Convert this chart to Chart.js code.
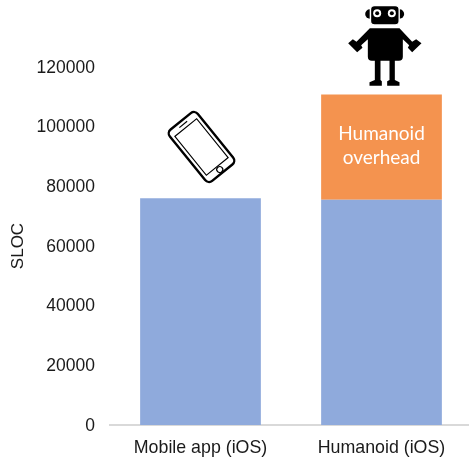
<!DOCTYPE html>
<html><head><meta charset="utf-8">
<style>html,body{margin:0;padding:0;background:#fff;overflow:hidden;width:469px;height:458px}
#w{position:relative;width:473px;height:458px}canvas{display:block}</style>
<script src="https://cdn.jsdelivr.net/npm/chart.js@4"></script></head>
<body><div id="w"><canvas id="c" width="473" height="458"></canvas></div>
<script>
const categories = ["Mobile app (iOS)", "Humanoid (iOS)"];
const baseValues = [76000, 75500];
const overheadValues = [0, 35300];
const tickValues = [0, 20000, 40000, 60000, 80000, 100000, 120000];
const overheadLabel = ["Humanoid", "overhead"];
const axisTitle = "SLOC";

const icons = {
  id: "icons",
  afterDatasetsDraw(chart) {
    const ctx = chart.ctx;
    const bars = chart.getDatasetMeta(0).data, top = chart.getDatasetMeta(1).data;
    // overhead label
    ctx.save();
    ctx.fillStyle = "#fff";
    ctx.font = '19px Lato, "Open Sans", sans-serif';
    ctx.textAlign = "center"; ctx.textBaseline = "middle";
    const o = top[1];
    ctx.fillText(overheadLabel[0], o.x, 134);
    ctx.fillText(overheadLabel[1], o.x, 158);
    ctx.restore();
    // phone
    ctx.save();
    ctx.translate(bars[0].x + 1, 147);
    ctx.rotate(-39 * Math.PI / 180);
    ctx.strokeStyle = "#000"; ctx.lineWidth = 2.4;
    ctx.beginPath(); ctx.roundRect(-18, -33, 36, 66, 5); ctx.stroke();
    ctx.lineWidth = 1.2;
    ctx.strokeRect(-14, -25, 28, 50);
    ctx.beginPath(); ctx.moveTo(-5, -29); ctx.lineTo(5, -29); ctx.stroke();
    ctx.beginPath(); ctx.arc(0, 29, 3, 0, Math.PI * 2); ctx.stroke();
    ctx.restore();
    // robot (drawn in 3x units around the bar centre)
    ctx.save();
    ctx.translate(top[1].x + 3, 0);
    ctx.scale(1 / 3, 1 / 3);
    ctx.translate(-162, 0);
    ctx.fillStyle = "#000";
    ctx.beginPath(); ctx.ellipse(118, 42, 14, 14, 0, Math.PI * .5, Math.PI * 1.5); ctx.fill();
    ctx.beginPath(); ctx.ellipse(207, 42, 14, 14, 0, -Math.PI * .5, Math.PI * .5); ctx.fill();
    ctx.strokeStyle = "#fff"; ctx.lineWidth = 4;
    ctx.beginPath(); ctx.roundRect(120, 17, 86, 58, 12); ctx.fill(); ctx.stroke();
    ctx.beginPath();
    ctx.moveTo(118, 85); ctx.lineTo(207, 85);
    ctx.lineTo(245, 125); ctx.lineTo(257, 118); ctx.lineTo(273, 130); ctx.lineTo(245, 157);
    ctx.lineTo(232, 143); ctx.lineTo(236, 136); ctx.lineTo(217, 118);
    ctx.lineTo(217, 170); ctx.quadraticCurveTo(217, 182, 205, 182);
    ctx.lineTo(193, 182); ctx.lineTo(193, 240); ctx.lineTo(207, 247); ctx.lineTo(207, 257);
    ctx.lineTo(170, 257); ctx.lineTo(170, 244); ctx.lineTo(177, 240); ctx.lineTo(177, 182);
    ctx.lineTo(150, 182); ctx.lineTo(150, 240); ctx.lineTo(154, 244); ctx.lineTo(154, 257);
    ctx.lineTo(117, 257); ctx.lineTo(117, 247); ctx.lineTo(133, 240); ctx.lineTo(133, 182);
    ctx.lineTo(124, 182); ctx.quadraticCurveTo(112, 182, 112, 170);
    ctx.lineTo(112, 118); ctx.lineTo(92, 136); ctx.lineTo(96, 143); ctx.lineTo(80, 157);
    ctx.lineTo(53, 130); ctx.lineTo(67, 118); ctx.lineTo(78, 125);
    ctx.closePath(); ctx.fill();
    for (const ex of [140, 184]) {
      ctx.fillStyle = "#fff"; ctx.beginPath(); ctx.arc(ex, 40, 12, 0, Math.PI * 2); ctx.fill();
      ctx.fillStyle = "#000"; ctx.beginPath(); ctx.arc(ex, 40, 6, 0, Math.PI * 2); ctx.fill();
    }
    ctx.restore();
  }
};

new Chart(document.getElementById("c"), {
  type: "bar",
  data: {
    labels: categories,
    datasets: [
      { data: baseValues, backgroundColor: "#8faadc", borderWidth: 0 },
      { data: overheadValues, backgroundColor: "#f4934f", borderWidth: 0 }
    ]
  },
  options: {
    responsive: false, animation: false, devicePixelRatio: 1,
    layout: { padding: { top: 67, right: 1, bottom: 0, left: 8 } },
    plugins: { legend: { display: false }, tooltip: { enabled: false } },
    scales: {
      x: {
        stacked: true,
        grid: { display: false, drawTicks: false },
        border: { display: true, color: "#d9d9d9", width: 2 },
        ticks: { color: "#1a1a1a", autoSkip: false, font: { family: '"Liberation Sans", Arial, sans-serif', size: 17.8 }, padding: 12, maxRotation: 0 },
        afterFit(s) { s.height = 33; }
      },
      y: {
        stacked: true, min: 0, max: 120000,
        afterBuildTicks(s) { s.ticks = tickValues.map(v => ({ value: v })); },
        grid: { display: false, drawTicks: false },
        border: { display: false },
        title: { display: true, text: axisTitle, color: "#1a1a1a", font: { family: '"Liberation Sans", Arial, sans-serif', size: 17 }, padding: 0 },
        ticks: { color: "#1a1a1a", autoSkip: false, font: { family: '"Liberation Sans", Arial, sans-serif', size: 17.5 }, padding: 15, labelOffset: 1, callback: v => String(v) },
        afterFit(s) { s.width = 102; }
      }
    },
    datasets: { bar: { categoryPercentage: 1, barPercentage: 0.667 } }
  },
  plugins: [icons]
});
</script></body></html>
